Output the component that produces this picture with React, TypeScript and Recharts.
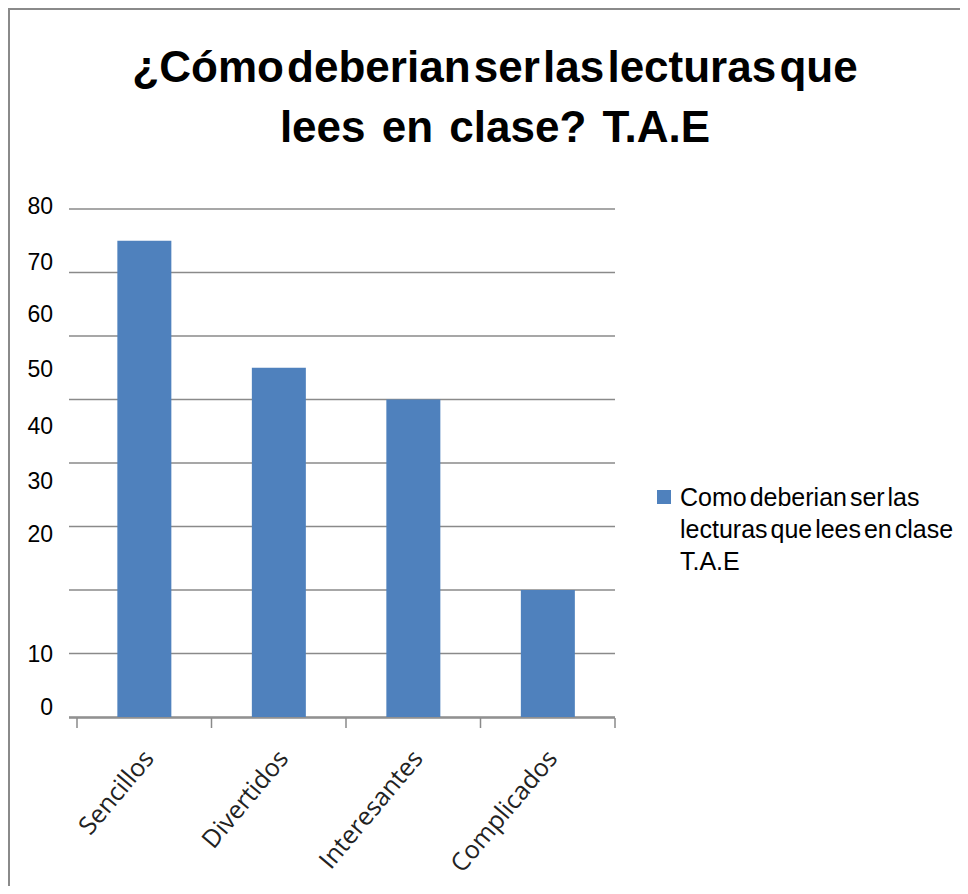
import { Bar, BarChart, CartesianGrid, Legend, XAxis, YAxis } from "recharts"

const categories = ["Sencillos", "Divertidos", "Interesantes", "Complicados"]
const values = [75, 55, 50, 20]
const seriesName = "Como deberian ser las lecturas que lees en clase T.A.E"
const gridTicks = [0, 10, 20, 30, 40, 50, 60, 70, 80]
// in the original the y labels drift off their gridlines, so they get their own positions
const tickLabels = ["0", "10", "20", "30", "40", "50", "60", "70", "80"]
const tickLabelPositions = [1.6, 10, 28.8, 37.2, 45.9, 54.9, 63.5, 71.7, 80.5]

// slot = index of the category, used by the axis that draws the tick marks between categories
const data = categories.map((name, i) => ({ name, value: values[i], slot: i }))
const edgeTicks = [...categories.map((_, i) => i), categories.length]

const gray = "#8a8a8a"

function NoLabel() {
  return <g />
}

function CategoryTick({ x, y, payload }: any) {
  const tx = x + 11
  const ty = y + 42
  return (
    <text
      x={tx}
      y={ty}
      textAnchor="end"
      transform={`rotate(-50, ${tx}, ${ty})`}
      fontFamily="'Open Sans', sans-serif"
      fontSize={25}
      fill="#222"
    >
      {payload.value}
    </text>
  )
}

function LegendBox({ payload }: any) {
  return (
    <div style={{ width: 340, paddingLeft: 42, boxSizing: "border-box" }}>
      {(payload || []).map((entry: any) => (
        <div key={entry.value} style={{ display: "flex", alignItems: "flex-start" }}>
          <span style={{ width: 14, height: 14, background: entry.color, marginTop: 9, marginRight: 9, flex: "none" }} />
          <span
            style={{
              width: 280,
              fontFamily: "'Liberation Sans', Arial, sans-serif",
              fontSize: 25,
              lineHeight: "32px",
              wordSpacing: -4,
              color: "#000",
            }}
          >
            {entry.value}
          </span>
        </div>
      ))}
    </div>
  )
}

export default function App() {
  return (
    <div
      style={{
        position: "relative",
        width: 958,
        height: 878,
        boxSizing: "border-box",
        borderTop: `2px solid ${gray}`,
        borderLeft: `2px solid ${gray}`,
        background: "#fff",
      }}
    >
      <div
        style={{
          position: "absolute",
          left: 20,
          top: 27,
          width: 930,
          textAlign: "center",
          fontFamily: "'Liberation Sans', Arial, sans-serif",
          fontWeight: "bold",
          fontSize: 44,
          lineHeight: "60px",
          color: "#000",
          zIndex: 1,
        }}
      >
        <div style={{ wordSpacing: -9 }}>¿Cómo deberian ser las lecturas que</div>
        <div style={{ wordSpacing: 4 }}>lees en clase? T.A.E</div>
      </div>
      <BarChart width={956} height={876} data={data} margin={{ top: 199, right: 11, bottom: 158, left: 4 }} barCategoryGap="30%">
        <CartesianGrid vertical={false} xAxisId="cat" yAxisId="grid" stroke={gray} strokeWidth={1.5} />
        <XAxis
          xAxisId="edges"
          dataKey="slot"
          type="number"
          domain={[0, categories.length]}
          ticks={edgeTicks}
          allowDataOverflow
          interval={0}
          tick={<NoLabel />}
          tickSize={10}
          height={10}
          padding={{ left: 8 }}
          stroke={gray}
          strokeWidth={1.5}
        />
        <XAxis
          xAxisId="cat"
          dataKey="name"
          height={1}
          axisLine={false}
          tickLine={false}
          tickSize={0}
          tickMargin={0}
          interval={0}
          padding={{ left: 8 }}
          tick={<CategoryTick />}
        />
        <YAxis yAxisId="grid" domain={[0, 80]} ticks={gridTicks} width={0} hide />
        <YAxis
          yAxisId="labels"
          type="number"
          domain={[0, 80]}
          allowDataOverflow
          ticks={tickLabelPositions}
          tickFormatter={(_v: number, i: number) => tickLabels[i]}
          interval={0}
          axisLine={false}
          tickLine={false}
          width={55}
          tickMargin={10}
          tick={{ fill: "#000", fontSize: 23, fontFamily: "'Liberation Sans', Arial, sans-serif" }}
        />
        <Legend
          layout="vertical"
          align="right"
          verticalAlign="middle"
          content={<LegendBox />}
          wrapperStyle={{ top: 471 }}
        />
        <Bar
          dataKey="value"
          name={seriesName}
          xAxisId="cat"
          yAxisId="grid"
          fill="#4F81BD"
          isAnimationActive={false}
        />
      </BarChart>
    </div>
  )
}
